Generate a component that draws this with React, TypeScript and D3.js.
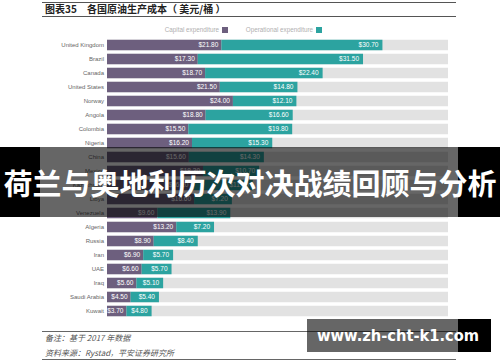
import * as d3 from 'd3';

const countries = [
  'United Kingdom', 'Brazil', 'Canada', 'United States', 'Norway', 'Angola',
  'Colombia', 'Nigeria', 'China', 'Mexico', 'Kazakhstan', 'Libya', 'Venezuela',
  'Algeria', 'Russia', 'Iran', 'UAE', 'Iraq', 'Saudi Arabia', 'Kuwait',
];
const capex = [21.8, 17.3, 18.7, 21.5, 24.0, 18.8, 15.5, 16.2, 15.6, 18.3, 16.1, 16.6, 9.6, 13.2, 8.9, 6.9, 6.6, 5.6, 4.5, 3.7];
const opex = [30.7, 31.5, 22.4, 14.8, 12.1, 16.6, 19.8, 15.3, 14.3, 10.7, 11.7, 7.2, 13.9, 7.2, 8.4, 5.7, 5.7, 5.1, 5.4, 4.8];
const legendLabels = ['Capital expenditure', 'Operational expenditure'];

const PURPLE = '#6d5f7e';
const TEAL = '#2ca3a0';
const sans = '"Liberation Sans", Arial, sans-serif';
const cjk = '"Noto Sans CJK SC", sans-serif';

export default function App() {
  const x = d3.scaleLinear().domain([0, 65]).range([107, 448]);
  const y = d3.scaleBand<string>().domain(countries).range([38, 318]).paddingInner(0.25).paddingOuter(0.125);
  const fmt = (v: number) => '$' + d3.format('.2f')(v);

  return (
    <div style={{ position: 'fixed', left: 0, top: 0 }}>
      <svg width={500} height={362} style={{ display: 'block', background: '#fff' }}>
        {/* header */}
        <line x1={42} x2={456} y1={2.5} y2={2.5} stroke="#555" strokeWidth={1} />
        <line x1={42} x2={456} y1={16.5} y2={16.5} stroke="#555" strokeWidth={1} />
        <text x={45} y={13} fontFamily={cjk} fontWeight="bold" fontSize={10} fill="#222">图表35</text>
        <text x={87} y={13} fontFamily={cjk} fontWeight="bold" fontSize={10} fill="#222">各国原油生产成本（ 美元/桶 ）</text>

        {/* legend */}
        <text x={219} y={31.5} textAnchor="end" fontFamily={sans} fontSize={6.3} fill="#b0b0b0">{legendLabels[0]}</text>
        <rect x={222} y={27} width={6} height={6} fill={PURPLE} />
        <text x={313} y={31.5} textAnchor="end" fontFamily={sans} fontSize={6.3} fill="#b0b0b0">{legendLabels[1]}</text>
        <rect x={316} y={27} width={6} height={6} fill={TEAL} />

        {/* bars */}
        {countries.map((c, i) => {
          const by = y(c)!;
          const h = y.bandwidth();
          const cy = by + h / 2;
          const x0 = x(0), x1 = x(capex[i]), x2 = x(capex[i] + opex[i]);
          return (
            <g key={c}>
              <text x={104} y={cy} dy="0.35em" textAnchor="end" fontFamily={sans} fontSize={6} fill="#666">{c}</text>
              <rect x={x0} y={by} width={x(65) - x0} height={h} fill="#e2e2e2" />
              <rect x={x0} y={by} width={x1 - x0} height={h} fill={PURPLE} />
              <rect x={x1} y={by} width={x2 - x1} height={h} fill={TEAL} />
              <text x={x1 - 3} y={cy} dy="0.35em" textAnchor="end" fontFamily={sans} fontSize={6.5} fill="#fff">{fmt(capex[i])}</text>
              <text x={x2 - 4} y={cy} dy="0.35em" textAnchor="end" fontFamily={sans} fontSize={6.5} fill="#fff">{fmt(opex[i])}</text>
            </g>
          );
        })}

        {/* notes */}
        <line x1={42} x2={456} y1={331.5} y2={331.5} stroke="#666" strokeWidth={1} />
        <text x={45} y={341} fontFamily={cjk} fontStyle="italic" fontSize={8} fill="#555">备注：基于 2017 年数据</text>
        <text x={45} y={356} fontFamily={cjk} fontStyle="italic" fontSize={8} fill="#555">资料来源：Rystad，平安证券研究所</text>
        <line x1={42} x2={456} y1={359.5} y2={359.5} stroke="#666" strokeWidth={1} />

        {/* overlay band */}
        <rect x={0} y={147} width={40} height={70} fill="#000" />
        <rect x={40} y={147} width={418} height={70} fill="rgba(0,0,0,0.6)" />
        <rect x={458} y={147} width={42} height={70} fill="#000" />
        <text x={250} y={185} dy="0.35em" textAnchor="middle" fontFamily={cjk} fontWeight="bold" fontSize={29} fill="#fff">荷兰与奥地利历次对决战绩回顾与分析</text>

        {/* watermark */}
        <rect x={307} y={319} width={151} height={33} fill="rgba(0,0,0,0.6)" />
        <rect x={458} y={319} width={33} height={33} fill="#000" />
        <text x={317} y={335.5} dy="0.35em" fontFamily='"DejaVu Sans", sans-serif' fontWeight="bold" fontSize={16} textLength={162} lengthAdjust="spacingAndGlyphs" fill="#fff">www.zh-cht-k1.com</text>
      </svg>
    </div>
  );
}
